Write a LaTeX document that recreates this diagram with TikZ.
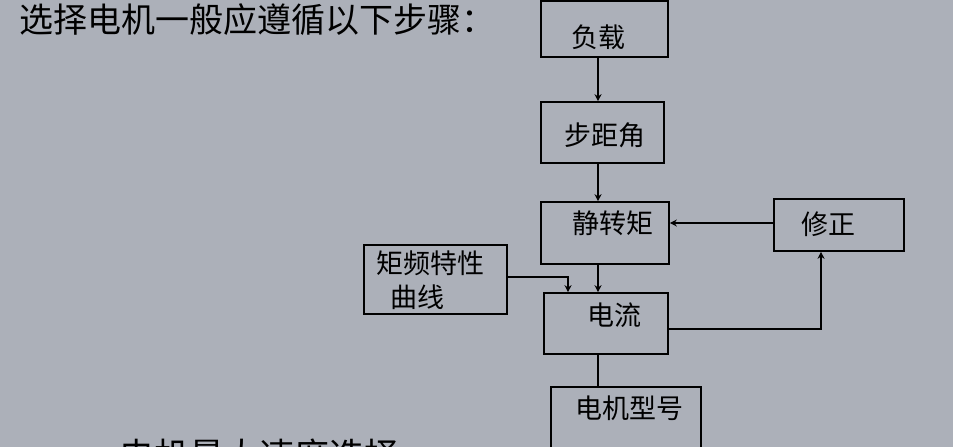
\documentclass[tikz,border=0pt]{standalone}
\usepackage{fontspec}
\setmainfont{Noto Sans CJK SC}
\usetikzlibrary{arrows.meta}
\definecolor{bg}{RGB}{172,176,185}
\begin{document}
\begin{tikzpicture}[x=1pt,y=-1pt,
  box/.style={draw=black, line width=1.6pt, inner sep=0pt, rectangle},
  lbl/.style={inner sep=0pt, font=\fontsize{27}{31}\selectfont},
  big/.style={inner sep=0pt, anchor=west, font=\fontsize{34}{40}\selectfont},
  arr/.style={line width=1.6pt, -{Stealth[length=7pt,width=7pt]}},
  ln/.style={line width=1.6pt}]
\useasboundingbox (0,0) rectangle (953,447);
\clip (0,0) rectangle (953,447);
\fill[bg] (0,0) rectangle (953,447);
% boxes
\node[box, minimum width=127pt, minimum height=56pt] (b1) at (604.5,29) {};
\node[box, minimum width=123pt, minimum height=61pt] (b2) at (602.5,132.5) {};
\node[box, minimum width=128pt, minimum height=62pt] (b3) at (605,233) {};
\node[box, minimum width=130pt, minimum height=52pt] (b4) at (839,225) {};
\node[box, minimum width=143pt, minimum height=69pt] (b5) at (435.5,279.5) {};
\node[box, minimum width=124pt, minimum height=61pt] (b6) at (606,323.5) {};
\node[box, minimum width=150pt, minimum height=93pt] (b7) at (626,433.5) {};
% labels
\node[lbl] (t1) at (598,37) {负载};
\node[lbl] (t2) at (605,135) {步距角};
\node[lbl] (t3) at (613,223) {静转矩};
\node[lbl] (t4) at (828,224) {修正};
\node[lbl] (t5) at (430,263) {矩频特性};
\node[lbl] (t5b) at (417,297) {曲线};
\node[lbl] (t6) at (614,315) {电流};
\node[lbl] (t7) at (629,408) {电机型号};
\node[big] (title) at (19,20) {选择电机一般应遵循以下步骤：};
\node[big, font=\fontsize{35}{40}\selectfont] (bottom) at (119,455) {电机最大速度选择};
% connectors
\coordinate (xa) at (598,0);
\draw[arr] (b1.south -| xa) -- (b2.north -| xa);
\draw[arr] (b2.south -| xa) -- (b3.north -| xa);
\draw[arr] (b3.south -| xa) -- (b6.north -| xa);
\draw[ln] (b6.south -| xa) -- (b7.north -| xa);
\coordinate (ya) at (0,223);
\draw[arr] (b4.west |- ya) -- (b3.east |- ya);
\coordinate (yb) at (0,277);
\coordinate (xb) at (568,0);
\draw[arr] (b5.east |- yb) -| (b6.north -| xb);
\coordinate (yc) at (0,329);
\coordinate (xc) at (821,0);
\draw[arr] (b6.east |- yc) -| (b4.south -| xc);
\end{tikzpicture}
\end{document}
